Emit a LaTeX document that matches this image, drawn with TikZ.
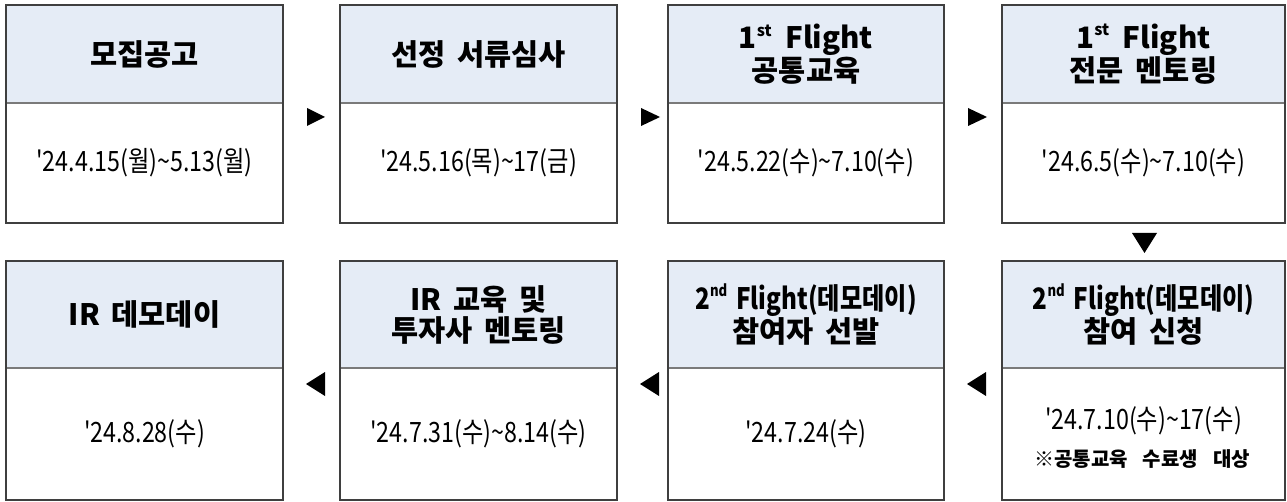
\documentclass[tikz,border=0pt]{standalone}
\usepackage{fontspec}
\setmainfont{Noto Sans CJK KR}
\newfontfamily\datefont{Noto Sans CJK KR}[FakeStretch=0.83]
\newfontfamily\narrowbold{Noto Sans CJK KR}[FakeStretch=0.82]
\definecolor{hdrblue}{HTML}{E5ECF6}
\definecolor{frameclr}{HTML}{3F3F3F}
\definecolor{sepclr}{HTML}{7A7A7A}
\newcommand\sups[1]{\raisebox{0.42em}{\fontsize{16}{16}\selectfont #1}}
\newcommand\flowbox[8]{%
  \path[fill=hdrblue] (#2,#4) rectangle (#3,#5);
  \draw[sepclr, line width=1.5pt] (#2,#5) -- (#3,#5);
  \draw[frameclr, line width=1.6pt] (#2,#4) rectangle (#3,#6);
  \node[hdrtext] (h#1) at ({(#2+#3)/2},{(#4+#5)/2}) {#7};
  \node[datetext] (d#1) at ({(#2+#3)/2},{(#5+#6)/2}) {#8};
}
\begin{document}
\begin{tikzpicture}[x=1pt,y=-1pt,
  hdrtext/.style={align=center, inner sep=0pt, font=\bfseries\fontsize{29.5}{31}\selectfont},
  datetext/.style={align=center, inner sep=0pt, font=\datefont\fontsize{28}{30}\selectfont},
  tri/.style={fill=black}]
\useasboundingbox (0,0) rectangle (1287,502);
% row 1
\flowbox{1}{6}{283}{5}{103}{223}{모집공고}{'24.4.15(월)\textasciitilde5.13(월)}
\flowbox{2}{340}{617}{5}{103}{223}{선정 \,서류심사}{'24.5.16(목)\textasciitilde17(금)}
\flowbox{3}{668}{944}{5}{103}{223}{1\sups{st}\ \ Flight\\공통교육}{'24.5.22(수)\textasciitilde7.10(수)}
\flowbox{4}{1002}{1285}{5}{103}{223}{1\sups{st}\ \ Flight\\전문 \,멘토링}{'24.6.5(수)\textasciitilde7.10(수)}
% row 2
\flowbox{5}{6}{283}{261}{368}{500}{IR \,데모데이}{'24.8.28(수)}
\flowbox{6}{340}{617}{261}{368}{500}{IR \,교육 \,및\\투자사 \,멘토링}{'24.7.31(수)\textasciitilde8.14(수)}
\flowbox{7}{668}{944}{261}{368}{500}{{\narrowbold 2\sups{nd}\hspace{9pt}Flight(데모데이)}\\참여자 \,선발}{'24.7.24(수)}
\flowbox{8}{1002}{1285}{261}{368}{500}{{\narrowbold 2\sups{nd}\hspace{9pt}Flight(데모데이)}\\참여 \,신청}{}
\node[datetext] (d8a) at (1143.5,421) {'24.7.10(수)\textasciitilde17(수)};
\node[inner sep=0pt, font=\bfseries\fontsize{20}{22}\selectfont] (n8) at (1142,459) {※공통교육\hspace{15pt}수료생\hspace{15pt}대상};
% triangles row 1
\fill[tri] (307,108) -- (325,117) -- (307,126) -- cycle;
\fill[tri] (641,108) -- (660,117) -- (641,126) -- cycle;
\fill[tri] (968,108) -- (987,117) -- (968,126) -- cycle;
% down
\fill[tri] (1132,233) -- (1157,233) -- (1144.5,253) -- cycle;
% row 2
\fill[tri] (986,372) -- (967,384) -- (986,396) -- cycle;
\fill[tri] (659,372) -- (640,384) -- (659,396) -- cycle;
\fill[tri] (325,372) -- (306,384) -- (325,396) -- cycle;
\end{tikzpicture}
\end{document}
